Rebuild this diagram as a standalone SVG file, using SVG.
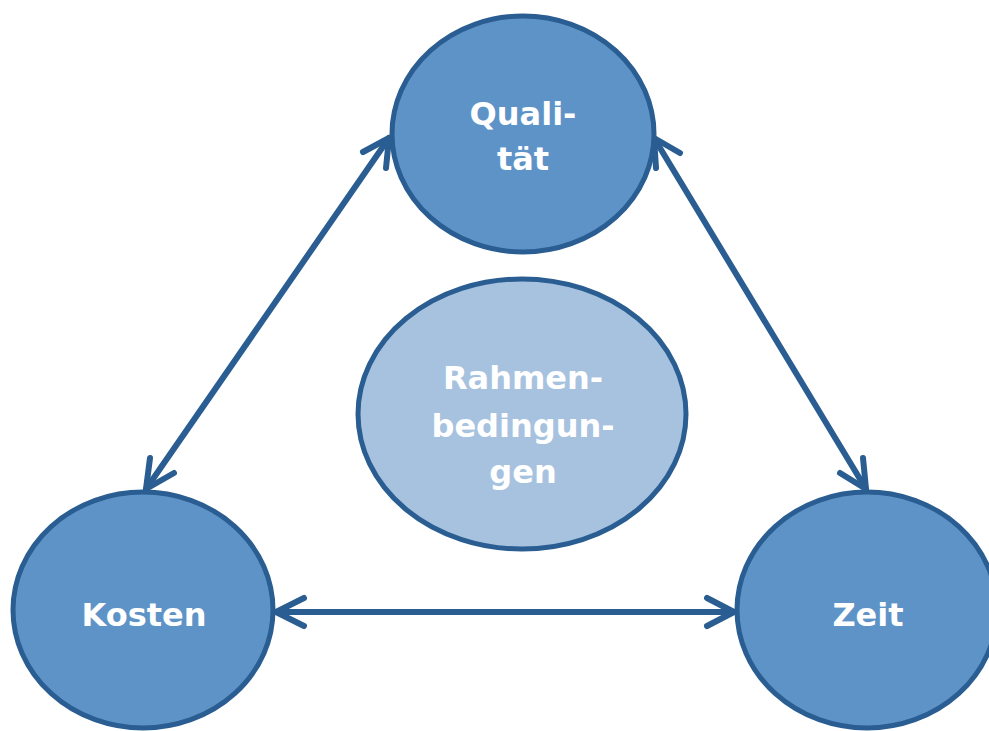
<svg xmlns="http://www.w3.org/2000/svg" width="989" height="731" viewBox="0 0 989 731">
<style>
.n{fill:#5E93C8;stroke:#2A5D91;stroke-width:5}
.m{fill:#A7C2DF;stroke:#2A5D91;stroke-width:5}
.c{fill:none;stroke:#2A5D91;stroke-width:6;stroke-linecap:round;stroke-linejoin:round}
text{font-family:"DejaVu Sans",Verdana,sans-serif;font-weight:bold;font-size:32px;fill:#fff;text-anchor:middle}
</style>
<rect width="989" height="731" fill="#fff"/>
<g id="connectors">
<path class="c" d="M389,138 L146,489"/>
<path class="c" d="M363,152 L389,138 L386,168"/>
<path class="c" d="M150,458 L146,489 L174,473"/>
<path class="c" d="M654,138 L866,489"/>
<path class="c" d="M680,153 L654,138 L656,168"/>
<path class="c" d="M863,458 L866,489 L840,473"/>
<path class="c" d="M276,612 L734,612"/>
<path class="c" d="M304,598 L276,612 L304,626"/>
<path class="c" d="M707,598 L734,612 L707,626"/>
</g>
<g id="qualitaet">
<ellipse class="n" cx="523" cy="134" rx="131" ry="118"/>
<text x="523" y="125">Quali-</text>
<text x="523" y="170">tät</text>
</g>
<g id="rahmenbedingungen">
<ellipse class="m" cx="522" cy="414" rx="164" ry="135"/>
<text x="523" y="389">Rahmen-</text>
<text x="523" y="437">bedingun-</text>
<text x="523" y="483">gen</text>
</g>
<g id="kosten">
<ellipse class="n" cx="143" cy="610" rx="130" ry="118"/>
<text x="144" y="626">Kosten</text>
</g>
<g id="zeit">
<ellipse class="n" cx="867" cy="610" rx="130" ry="118"/>
<text x="868" y="626">Zeit</text>
</g>
</svg>
